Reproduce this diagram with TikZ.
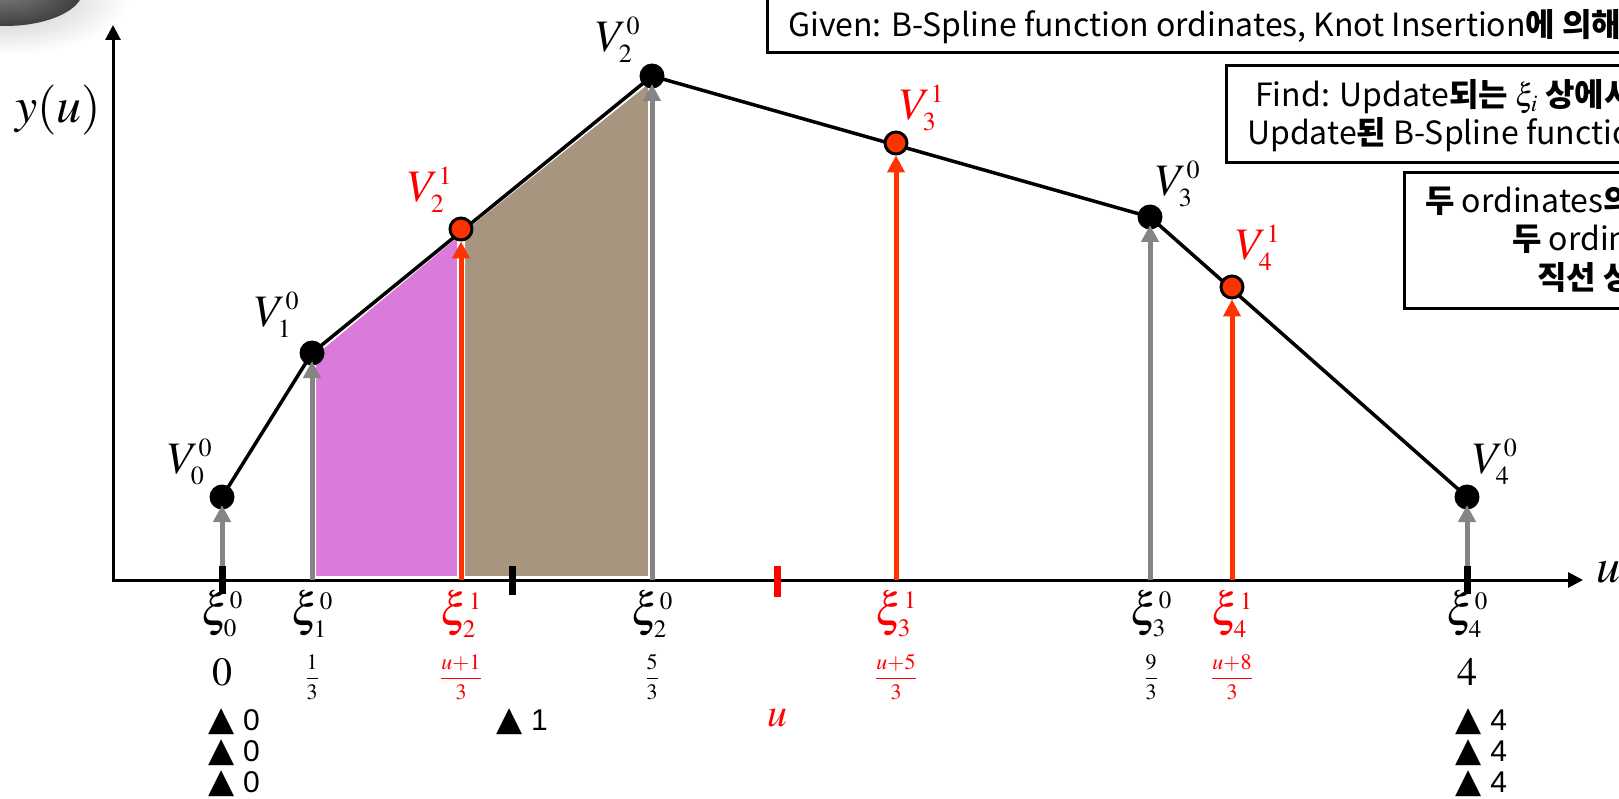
\documentclass[tikz,border=0pt]{standalone}
\usepackage{mathptmx}
\usepackage{fontspec}
\usetikzlibrary{arrows.meta}
\newfontfamily\krfont{Noto Sans CJK KR}
\newfontfamily\dvfont{DejaVu Sans}
\newfontfamily\arfont{Liberation Sans}
\DeclareMathSizes{45}{45}{26}{19}
\DeclareMathSizes{46}{46}{25}{18}
\newcommand\fsz[1]{\fontsize{#1}{#1}\selectfont}
\newcommand\krb[1]{{\bfseries #1}}
\newcommand\tri[1]{{\dvfont\fsz{34}▲}\hspace{9pt}{\arfont\fsz{30}#1}}
\definecolor{redA}{HTML}{FF3300}
\definecolor{redT}{HTML}{FF0000}
\definecolor{grayA}{HTML}{858585}
\definecolor{magF}{HTML}{DA7ADA}
\definecolor{brnF}{HTML}{A8957F}
\begin{document}
\begin{tikzpicture}[x=1pt,y=-1pt,
  blk/.style={circle, fill=black, inner sep=0pt, minimum size=25pt},
  rdot/.style={circle, fill=redA, draw=black, line width=3pt, inner sep=0pt, minimum size=22pt},
  vlab/.style={inner sep=0pt, font=\fsz{45}},
  xlab/.style={inner sep=0pt, font=\fsz{46}},
  fraclab/.style={inner sep=0pt, font=\fsz{22}},
  vallab/.style={inner sep=0pt, font=\fsz{40}},
  trilab/.style={inner sep=0pt},
  graya/.style={draw=grayA, line width=5pt, -{Triangle[length=17pt,width=17pt]}},
  reda/.style={draw=redA, line width=5pt, -{Triangle[length=17pt,width=17pt]}},
  boxline/.style={draw=black, line width=3pt},
  boxtext/.style={inner sep=0pt, anchor=base west, font=\krfont\fsz{32}},
  fillarea/.style={draw=white, line width=8pt, line join=round}
]
\useasboundingbox (0,0) rectangle (1619,799);
% background blob (top-left)
\shade[inner color=black!25, outer color=white] (10,-5) ellipse [x radius=120pt, y radius=60pt];
\shade[inner color=black!50, outer color=black!75] (5,-10) ellipse [x radius=78pt, y radius=36pt];

% coordinates
\coordinate (O) at (113,580);
\coordinate (xe) at (1583,580);
\coordinate (ye) at (113,25);
\coordinate (c0) at (222,497);
\coordinate (c1) at (312,353);
\coordinate (c2) at (652,76);
\coordinate (c3) at (1150,217);
\coordinate (c4) at (1467,497);
\coordinate (q2) at (461,229);
\coordinate (q3) at (896,143);
\coordinate (q4) at (1232,287);
\coordinate (b0) at (222,566);
\coordinate (b1) at (312,580);
\coordinate (bq2) at (461,580);
\coordinate (b2) at (652,580);
\coordinate (bq3) at (896,580);
\coordinate (b3) at (1150,580);
\coordinate (bq4) at (1232,580);
\coordinate (b4) at (1467,566);

% filled areas
\filldraw[fillarea, fill=magF] (b1) -- (c1) -- (q2) -- (bq2) -- cycle;
\filldraw[fillarea, fill=brnF] (bq2) -- (q2) -- (c2) -- (b2) -- cycle;

% axes
\draw[line width=3pt, line join=miter, {Triangle[length=15pt,width=15pt]}-{Triangle[length=15pt,width=15pt]}] (ye) -- (O) -- (xe);

% knot ticks
\fill[black] (218.5,566) rectangle (225.5,594);
\fill[black] (508.5,566) rectangle (515.5,595);
\fill[redT] (773.5,566) rectangle (780.5,597);
\fill[black] (1463.5,566) rectangle (1470.5,594);

% control polygon
\draw[line width=3.5pt, line join=round] (c0) -- (c1) -- (c2) -- (c3) -- (c4);

% dots
\node[blk] (d0) at (c0) {};
\node[blk] (d1) at (c1) {};
\node[blk] (d2) at (c2) {};
\node[blk] (d3) at (c3) {};
\node[blk] (d4) at (c4) {};
\node[rdot] (r2) at (q2) {};
\node[rdot] (r3) at (q3) {};
\node[rdot] (r4) at (q4) {};

% arrows
\draw[reda] (bq2) -- (r2);
\draw[reda] (bq3) -- (r3);
\draw[reda] (bq4) -- (r4);
\draw[graya] (b0) -- ([yshift=-8pt]d0.center);
\draw[graya] (b1) -- ([yshift=-8pt]d1.center);
\draw[graya] (b2) -- ([yshift=-8pt]d2.center);
\draw[graya] (b3) -- ([yshift=-8pt]d3.center);
\draw[graya] (b4) -- ([yshift=-8pt]d4.center);

% axis labels
\node[inner sep=0pt, font=\fsz{50}] (ylab) at (58,110) {$y(u)$};
\node[inner sep=0pt, font=\fsz{48}] (xlabu) at (1608,572) {$u$};

% vertex labels
\node[vlab] (lv00) at (190,462) {$V_0^0$};
\node[vlab] (lv10) at (277,315) {$V_1^0$};
\node[vlab, text=redT] (lv21) at (430,190) {$V_2^1$};
\node[vlab] (lv20) at (618,40) {$V_2^0$};
\node[vlab, text=redT] (lv31) at (922,108) {$V_3^1$};
\node[vlab] (lv30) at (1178,184) {$V_3^0$};
\node[vlab, text=redT] (lv41) at (1258,248) {$V_4^1$};
\node[vlab] (lv40) at (1495,462) {$V_4^0$};

% knot labels
\node[xlab] (x00) at (222,614) {$\xi_0^0$};
\node[xlab] (x10) at (312,614) {$\xi_1^0$};
\node[xlab, text=redT] (x21) at (461,614) {$\xi_2^1$};
\node[xlab] (x20) at (652,614) {$\xi_2^0$};
\node[xlab, text=redT] (x31) at (896,614) {$\xi_3^1$};
\node[xlab] (x30) at (1151,614) {$\xi_3^0$};
\node[xlab, text=redT] (x41) at (1232,614) {$\xi_4^1$};
\node[xlab] (x40) at (1467,614) {$\xi_4^0$};

% values
\node[vallab] (v0) at (222,672) {$0$};
\node[fraclab] (v1) at (312,677) {$\displaystyle\frac{1}{3}$};
\node[fraclab, text=redT] (vq2) at (461,677) {$\displaystyle\frac{u{+}1}{3}$};
\node[fraclab] (v2) at (652,677) {$\displaystyle\frac{5}{3}$};
\node[fraclab, text=redT] (vq3) at (896,677) {$\displaystyle\frac{u{+}5}{3}$};
\node[fraclab] (v3) at (1151,677) {$\displaystyle\frac{9}{3}$};
\node[fraclab, text=redT] (vq4) at (1232,677) {$\displaystyle\frac{u{+}8}{3}$};
\node[vallab] (v4) at (1467,672) {$4$};

% knot vector entries
\node[trilab] (t0a) at (234,722) {\tri{0}};
\node[trilab] (t0b) at (234,753) {\tri{0}};
\node[trilab] (t0c) at (234,784) {\tri{0}};
\node[trilab] (t1) at (522,722) {\tri{1}};
\node[inner sep=0pt, font=\fsz{40}, text=redT] (tu) at (777,718) {$u$};
\node[trilab] (t4a) at (1481,722) {\tri{4}};
\node[trilab] (t4b) at (1481,753) {\tri{4}};
\node[trilab] (t4c) at (1481,784) {\tri{4}};

% text boxes (cut by the right edge)
\draw[boxline] (767,-5) rectangle (1660,53);
\node[boxtext] (g1) at (788,37) {Given: B-Spline function ordinates, Knot Insertion\krb{에 의해 기}};
\draw[boxline] (1226,66) rectangle (1660,163);
\node[boxtext] (f1) at (1255,107) {Find: Update\krb{되는} $\xi_i$ \krb{상에서}};
\node[boxtext] (f2) at (1247,145) {Update\krb{된} B-Spline function};
\draw[boxline] (1404,173) rectangle (1660,309);
\node[boxtext] (h1) at (1425,213) {\krb{두} ordinates\krb{의}};
\node[boxtext] (h2) at (1512,251) {\krb{두} ordinates};
\node[boxtext] (h3) at (1537,290) {\krb{직선 상}};
\end{tikzpicture}
\end{document}
